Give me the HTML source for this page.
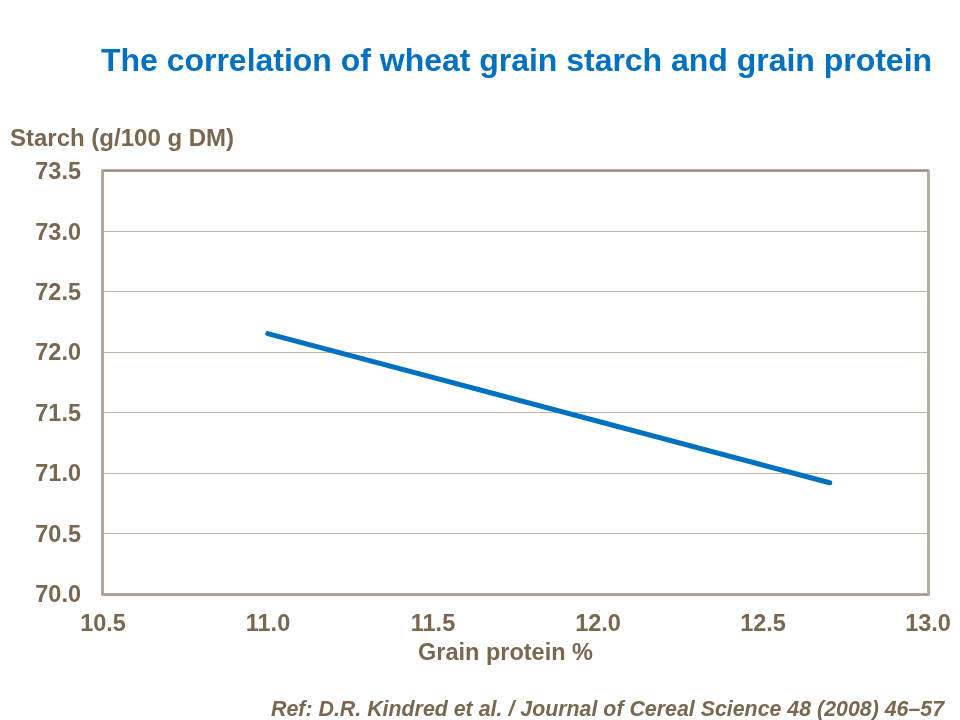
<!DOCTYPE html>
<html>
<head>
<meta charset="utf-8">
<title>The correlation of wheat grain starch and grain protein</title>
<style>
  html, body { margin: 0; padding: 0; background: #ffffff; }
  body { width: 960px; height: 720px; overflow: hidden; position: relative;
         font-family: "Liberation Sans", sans-serif; font-weight: bold; }
  .t { position: absolute; white-space: nowrap; line-height: 1; will-change: transform; }
  #title { left: 101px; top: 44px; font-size: 32px; color: #0070c0; letter-spacing: -0.02px; }
  .lab { font-size: 24px; color: #7a6750; }
  .ch { font-size: 23.5px; color: #7a6750; }
  .yl { width: 60px; text-align: right; left: 21.2px; }
  .xl { width: 80px; text-align: center; }
  #ref { right: 15.6px; top: 699px; font-size: 21.33px; letter-spacing: 0.015px; font-style: italic; color: #7a6750; }
  svg { position: absolute; left: 0; top: 0; }
</style>
</head>
<body>
<svg width="960" height="720" viewBox="0 0 960 720">
  <!-- gridlines -->
  <g stroke="#c0b4a9" stroke-width="1" shape-rendering="crispEdges">
    <line x1="103" x2="928" y1="231.5" y2="231.5"/>
    <line x1="103" x2="928" y1="291.5" y2="291.5"/>
    <line x1="103" x2="928" y1="352.5" y2="352.5"/>
    <line x1="103" x2="928" y1="412.5" y2="412.5"/>
    <line x1="103" x2="928" y1="473.5" y2="473.5"/>
    <line x1="103" x2="928" y1="533.5" y2="533.5"/>
  </g>
  <!-- plot frame: soft 3px band with rounded joins + darker cores per side -->
  <rect x="102.5" y="170.5" width="826" height="424" fill="none" stroke="#b9aea3" stroke-width="3" stroke-linejoin="round"/>
  <g shape-rendering="crispEdges" stroke-width="1">
    <line x1="103" x2="928" y1="170.5" y2="170.5" stroke="#9c8a7a"/>
    <line x1="103" x2="928" y1="171.5" y2="171.5" stroke="#b0a294"/>
    <line x1="102.5" x2="102.5" y1="171" y2="595" stroke="#a69c92"/>
    <line x1="103.5" x2="103.5" y1="172" y2="594" stroke="#b3a99e"/>
    <line x1="102" x2="928" y1="594.5" y2="594.5" stroke="#a59a8f"/>
    <line x1="103" x2="928" y1="595.5" y2="595.5" stroke="#b0a59a"/>
  </g>
  <!-- data line -->
  <line x1="267.7" y1="333.67" x2="829.7" y2="482.75" stroke="#0070c0" stroke-width="5" stroke-linecap="round"/>
</svg>

<div id="title" class="t">The correlation of wheat grain starch and grain protein</div>

<div class="t lab" style="left:10px; top:126px;">Starch (g/100 g DM)</div>

<div class="t ch yl" style="top:160px;">73.5</div>
<div class="t ch yl" style="top:221px;">73.0</div>
<div class="t ch yl" style="top:281px;">72.5</div>
<div class="t ch yl" style="top:341px;">72.0</div>
<div class="t ch yl" style="top:402px;">71.5</div>
<div class="t ch yl" style="top:462px;">71.0</div>
<div class="t ch yl" style="top:523px;">70.5</div>
<div class="t ch yl" style="top:583px;">70.0</div>

<div class="t ch xl" style="left:62.7px; top:612.3px;">10.5</div>
<div class="t ch xl" style="left:227.9px; top:612.3px;">11.0</div>
<div class="t ch xl" style="left:393.0px; top:612.3px;">11.5</div>
<div class="t ch xl" style="left:558.2px; top:612.3px;">12.0</div>
<div class="t ch xl" style="left:723.3px; top:612.3px;">12.5</div>
<div class="t ch xl" style="left:887.5px; top:612.3px;">13.0</div>

<div class="t ch" style="left:418.2px; top:641px;">Grain protein %</div>

<div id="ref" class="t">Ref: D.R. Kindred et al. / Journal of Cereal Science 48 (2008) 46–57</div>
</body>
</html>
